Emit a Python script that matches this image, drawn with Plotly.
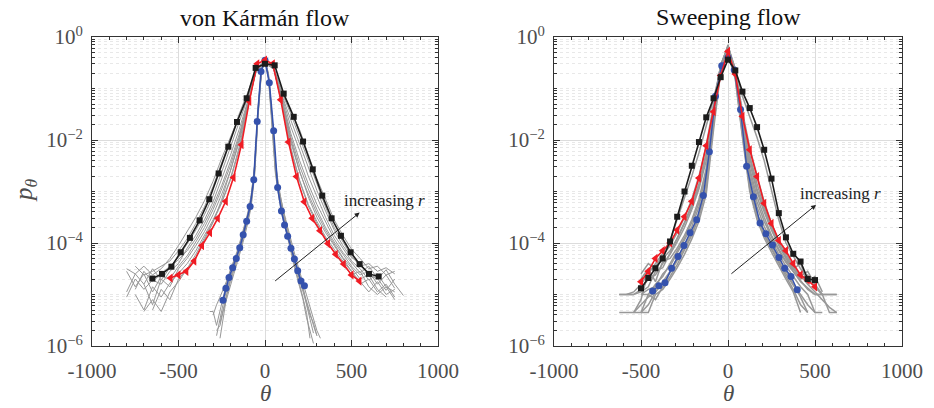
import plotly.graph_objects as go

# ---------------- data (log10 of p_theta) ----------------
# von Karman flow
vk_black_theta = [-651, -595, -541, -487, -434, -378, -322, -268, -212, -162, -106, -54, 0,
                  56, 108, 166, 220, 276, 331, 385, 439, 495, 547, 601, 657]
vk_black_logp = [-4.69, -4.60, -4.46, -4.18, -3.90, -3.56, -3.15, -2.65, -2.13, -1.65, -1.19, -0.60, -0.52,
                 -0.55, -1.10, -1.55, -2.03, -2.57, -3.08, -3.52, -3.86, -4.18, -4.41, -4.60, -4.65]
vk_red_theta = [-546, -500, -455, -409, -364, -318, -273, -227, -182, -136, -91, -45, 0,
                45, 91, 136, 182, 227, 273, 318, 364, 409, 455, 500, 546]
vk_red_logp = [-4.68, -4.62, -4.55, -4.35, -4.05, -3.80, -3.52, -3.19, -2.73, -2.09, -1.25, -0.52, -0.45,
               -0.52, -1.22, -2.04, -2.71, -3.20, -3.52, -3.76, -4.01, -4.22, -4.41, -4.62, -4.74]
vk_blue_theta = [-243, -226, -208, -187, -166, -146, -126, -106, -86, -65, -45, -23, 0,
                 25, 50, 73, 95, 113, 131, 150, 170, 189, 208, 228]
vk_blue_logp = [-5.11, -4.88, -4.67, -4.48, -4.30, -4.09, -3.84, -3.58, -3.29, -2.77, -1.64, -0.67, -0.45,
                -0.89, -1.82, -2.92, -3.38, -3.65, -3.87, -4.10, -4.31, -4.54, -4.74, -4.83]

vk_gray_outer_theta = [-800, -750, -700, -650, -600, -550, -500, -450, -400, -350, -300, -250, -200, -150, -100, -50, 0,
                       50, 100, 150, 200, 250, 300, 350, 400, 450, 500, 550, 600, 650, 700, 750, 800]
vk_gray_outer_1 = [None, -4.45, -4.62, -4.55, -4.45, -4.35, -4.15, -3.92, -3.62, -3.30, -2.90, -2.45, -1.98, -1.50, -1.08, -0.62, -0.50,
                   -0.60, -1.05, -1.45, -1.80, -2.28, -2.75, -3.15, -3.55, -3.85, -4.12, -4.30, -4.50, -4.45, -4.62, -4.55, None]
vk_gray_outer_2 = [-5.05, -4.70, -4.90, -4.72, -4.80, -4.55, -4.40, -4.10, -3.85, -3.55, -3.20, -2.75, -2.30, -1.80, -1.25, -0.62, -0.48,
                   -0.60, -1.20, -1.75, -2.20, -2.70, -3.10, -3.50, -3.85, -4.10, -4.35, -4.50, -4.72, -4.60, -4.85, -4.95, None]
vk_gray_outer_3 = [None, -5.00, -5.30, -4.85, -5.05, -4.78, -4.60, -4.40, -4.15, -3.85, -3.55, -3.20, -2.75, -2.15, -1.38, -0.60, -0.47,
                   -0.58, -1.30, -2.15, -2.78, -3.25, -3.58, -3.88, -4.12, -4.35, -4.55, -4.80, -4.70, -4.95, -4.80, -5.05, None]
vk_gray_outer_4 = [-4.55, -4.85, -4.60, -4.95, -4.65, -4.70, -4.45, -4.25, -3.98, -3.70, -3.35, -2.95, -2.50, -1.95, -1.30, -0.65, -0.49,
                   -0.62, -1.25, -1.95, -2.50, -2.95, -3.35, -3.70, -3.98, -4.22, -4.45, -4.62, -4.55, -4.80, -4.62, -4.88, None]
vk_gray_outer_5 = [None, None, -5.33, -5.10, -5.33, -4.95, -4.75, -4.50, -4.28, -3.95, -3.60, -3.15, -2.60, -2.00, -1.32, -0.63, -0.47,
                   -0.60, -1.28, -2.00, -2.60, -3.10, -3.50, -3.80, -4.05, -4.30, -4.55, -4.75, -4.95, -4.75, -5.00, -4.90, None]
vk_gray_outer_6 = [-4.50, -4.60, -4.45, -4.62, -4.50, -4.30, -4.05, -3.78, -3.50, -3.18, -2.80, -2.35, -1.95, -1.55, -1.15, -0.65, -0.52,
                   -0.62, -1.10, -1.50, -1.95, -2.40, -2.85, -3.30, -3.70, -3.98, -4.25, -4.45, -4.40, -4.55, -4.48, -4.60, None]
vk_gray_outer_7 = [None, None, -4.80, -5.20, -4.70, -4.85, -4.50, -4.30, -4.05, -3.78, -3.45, -3.05, -2.60, -2.05, -1.35, -0.64, -0.48,
                   -0.61, -1.32, -2.05, -2.62, -3.05, -3.42, -3.75, -4.02, -4.28, -4.48, -4.70, -4.62, -4.90, -5.05, None, None]
vk_gray_outer_8 = [None, -4.90, -4.55, -4.75, -4.60, -4.45, -4.28, -4.02, -3.75, -3.45, -3.08, -2.62, -2.15, -1.65, -1.18, -0.63, -0.50,
                   -0.61, -1.15, -1.62, -2.08, -2.55, -2.98, -3.38, -3.75, -4.05, -4.28, -4.40, -4.62, -4.70, -4.52, -4.80, -5.02]
vk_gray_outer_9 = [None, None, None, -5.30, -4.90, -5.10, -4.70, -4.50, -4.22, -3.90, -3.58, -3.22, -2.78, -2.20, -1.40, -0.61, -0.46,
                   -0.59, -1.35, -2.20, -2.80, -3.28, -3.62, -3.92, -4.18, -4.42, -4.62, -4.55, -4.85, -5.00, -4.85, -5.10, None]
vk_gray_outer_10 = [-4.95, -4.60, -4.80, -4.50, -4.72, -4.48, -4.32, -4.15, -3.92, -3.62, -3.28, -2.88, -2.42, -1.90, -1.28, -0.64, -0.49,
                    -0.62, -1.22, -1.88, -2.40, -2.85, -3.25, -3.60, -3.92, -4.18, -4.38, -4.58, -4.45, -4.68, -4.92, -4.70, None]

vk_gray_inner_theta = [-320, -300, -280, -260, -240, -220, -200, -180, -160, -140, -120, -100, -80, -60, -40, -20, 0,
                       20, 40, 60, 80, 100, 120, 140, 160, 180, 200, 220, 240, 260, 280, 300, 320]
vk_gray_inner_1 = [None, None, -5.80, -5.45, -5.15, -4.90, -4.65, -4.45, -4.25, -4.05, -3.80, -3.52, -3.20, -2.60, -1.45, -0.65, -0.46,
                   -0.75, -1.55, -2.50, -3.00, -3.35, -3.62, -3.90, -4.20, -4.45, -4.68, -4.90, -5.10, -5.35, -5.60, -5.80, None]
vk_gray_inner_2 = [-5.33, -5.33, -5.60, -5.30, -5.00, -4.75, -4.55, -4.38, -4.18, -3.95, -3.70, -3.45, -3.10, -2.50, -1.38, -0.62, -0.45,
                   -0.72, -1.50, -2.45, -2.95, -3.30, -3.58, -3.85, -4.15, -4.38, -4.62, -4.85, -5.20, -5.45, -5.75, None, None]
vk_gray_inner_3 = [None, None, None, -5.85, -5.40, -5.00, -4.75, -4.55, -4.32, -4.10, -3.85, -3.58, -3.25, -2.65, -1.50, -0.66, -0.46,
                   -0.78, -1.62, -2.60, -3.08, -3.42, -3.70, -3.98, -4.30, -4.55, -4.80, -5.05, -5.35, -5.85, None, None, None]
vk_gray_inner_4 = [None, None, None, -5.55, -5.25, -4.95, -4.70, -4.50, -4.28, -4.00, -3.78, -3.50, -3.15, -2.55, -1.42, -0.63, -0.45,
                   -0.76, -1.55, -2.55, -3.05, -3.40, -3.68, -3.95, -4.25, -4.50, -4.72, -4.95, -5.15, -5.40, -5.55, -5.80, None]
vk_gray_inner_5 = [None, -5.40, -5.20, -5.05, -4.90, -4.72, -4.52, -4.35, -4.15, -3.92, -3.68, -3.42, -3.08, -2.48, -1.35, -0.61, -0.45,
                   -0.70, -1.48, -2.42, -2.92, -3.28, -3.55, -3.82, -4.10, -4.32, -4.55, -4.78, -5.00, -5.25, -5.50, -5.70, -5.85]
vk_gray_inner_6 = [None, None, -5.70, -5.60, -5.30, -5.05, -4.80, -4.60, -4.38, -4.15, -3.90, -3.62, -3.30, -2.70, -1.55, -0.67, -0.46,
                   -0.80, -1.65, -2.65, -3.12, -3.48, -3.75, -4.05, -4.35, -4.60, -4.85, -5.10, -5.45, -5.70, -5.95, None, None]

# Sweeping flow
sw_theta = [-625, -583, -542, -500, -458, -417, -375, -333, -292, -250, -208, -167, -125, -83, -42, 0,
            42, 83, 125, 167, 208, 250, 292, 333, 375, 417, 458, 500, 542, 583, 625]
sw_black_logp = [None, None, None, -4.88, -4.68, -4.49, -4.30, -3.97, -3.49, -3.00, -2.50, -2.04, -1.56, -1.19, -0.78, -0.44,
                 -0.65, -1.06, -1.38, -1.75, -2.19, -2.75, -3.42, -3.89, -4.21, -4.36, -4.70, -4.72, None, None, None]
sw_red_logp = [None, None, None, -4.75, -4.55, -4.30, -4.15, -4.00, -3.75, -3.49, -3.19, -2.74, -2.11, -1.45, -0.75, -0.28,
               -0.72, -1.54, -2.19, -2.71, -3.23, -3.62, -3.95, -4.15, -4.40, -4.62, -4.72, -4.85, None, None, None]
sw_blue_theta = [-433, -397, -362, -324, -287, -253, -218, -180, -142, -107, -72, -36, 0,
                 36, 72, 107, 146, 184, 218, 256, 293, 326, 362, 398]
sw_blue_logp = [-4.93, -4.83, -4.77, -4.49, -4.26, -4.05, -3.80, -3.55, -3.08, -2.23, -1.15, -0.56, -0.40,
                -0.64, -1.41, -2.51, -3.10, -3.61, -3.82, -4.04, -4.28, -4.49, -4.65, -4.91]

sw_gray_1 = [None, None, None, -5.35, -5.20, -4.95, -4.75, -4.55, -4.30, -4.05, -3.78, -3.42, -2.80, -1.55, -0.60, -0.25,
             -0.70, -1.75, -2.85, -3.42, -3.78, -4.05, -4.30, -4.55, -4.80, -5.05, -5.35, None, None, None, None]
sw_gray_2 = [-5.00, -5.00, -5.00, -4.90, -4.70, -4.62, -4.40, -4.22, -3.98, -3.70, -3.35, -2.95, -2.40, -1.35, -0.55, -0.20,
             -0.65, -1.55, -2.45, -3.00, -3.40, -3.75, -4.05, -4.30, -4.55, -4.75, -4.88, -5.00, -5.00, -5.00, -5.00]
sw_gray_3 = [-5.35, -5.35, -5.35, -5.10, -4.55, -4.45, -4.25, -4.05, -3.80, -3.50, -3.15, -2.70, -2.10, -1.30, -0.55, -0.18,
             -0.62, -1.45, -2.15, -2.70, -3.20, -3.62, -3.95, -4.20, -4.45, -4.62, -4.80, -4.95, -5.10, -5.25, -5.35]
sw_gray_4 = [None, None, -5.35, -5.35, -5.00, -5.10, -4.85, -4.65, -4.42, -4.15, -3.85, -3.50, -2.95, -1.70, -0.65, -0.30,
             -0.80, -1.90, -2.95, -3.50, -3.85, -4.12, -4.40, -4.65, -4.90, -5.20, -5.35, None, None, None, None]
sw_gray_5 = [None, None, None, -4.70, -4.50, -4.75, -4.35, -4.30, -4.10, -3.85, -3.55, -3.15, -2.55, -1.45, -0.58, -0.22,
             -0.68, -1.60, -2.55, -3.10, -3.50, -3.85, -4.12, -4.35, -4.50, -4.40, -4.75, -4.65, -4.95, None, None]
sw_gray_6 = [None, -5.00, -4.95, -4.80, -4.60, -4.40, -4.20, -3.95, -3.55, -3.15, -2.70, -2.25, -1.75, -1.20, -0.60, -0.30,
             -0.62, -1.15, -1.55, -1.95, -2.40, -2.95, -3.55, -4.00, -4.25, -4.50, -4.70, -4.85, -5.00, None, None]
sw_gray_7 = [None, None, None, -5.00, -4.90, -4.85, -4.60, -4.45, -4.20, -3.95, -3.68, -3.30, -2.60, -1.45, -0.58, -0.15,
             -0.72, -1.65, -2.70, -3.30, -3.68, -3.95, -4.22, -4.45, -4.65, -4.85, -5.00, -5.35, -5.35, None, None]
sw_gray_8 = [-5.00, -5.00, -5.00, -4.95, -4.85, -4.55, -4.48, -4.20, -3.90, -3.60, -3.25, -2.85, -2.25, -1.35, -0.55, -0.20,
             -0.66, -1.50, -2.30, -2.85, -3.30, -3.68, -4.00, -4.28, -4.50, -4.70, -4.62, -4.85, -5.00, -5.00, -5.00]
sw_gray_9 = [None, None, None, -5.00, -5.00, -4.80, -4.65, -4.40, -4.15, -3.90, -3.60, -3.22, -2.65, -1.55, -0.60, -0.22,
             -0.70, -1.70, -2.62, -3.20, -3.58, -3.88, -4.15, -4.38, -4.55, -4.72, -4.90, -5.00, -5.00, None, None]
sw_gray_10 = [None, None, -5.35, -5.20, -5.05, -4.95, -4.78, -4.58, -4.35, -4.10, -3.82, -3.46, -2.85, -1.62, -0.62, -0.26,
              -0.76, -1.80, -2.88, -3.46, -3.82, -4.10, -4.35, -4.60, -4.82, -5.00, -5.20, -5.35, None, None, None]
sw_gray_11 = [None, None, None, -4.60, -4.40, -4.50, -4.30, -4.15, -3.92, -3.62, -3.30, -2.90, -2.30, -1.38, -0.57, -0.18,
              -0.64, -1.50, -2.35, -2.95, -3.35, -3.70, -4.02, -4.25, -4.48, -4.65, -4.55, -4.80, -5.00, -5.35, -5.35]
sw_gray_12 = [None, None, None, -5.35, -5.35, -5.00, -4.90, -4.70, -4.48, -4.22, -3.92, -3.58, -3.05, -1.80, -0.68, -0.32,
              -0.82, -1.95, -3.00, -3.55, -3.90, -4.18, -4.45, -4.70, -4.95, -5.35, None, None, None, None, None]

x_tick_vals = [-1000, -500, 0, 500, 1000]
x_tick_text = ["-1000", "-500", "0", "500", "1000"]
y_tick_vals = [1, 1e-2, 1e-4, 1e-6]
y_tick_text = ["10<sup>0</sup>", "10<sup>−2</sup>", "10<sup>−4</sup>", "10<sup>−6</sup>"]


def p(vals):
    return [None if v is None else 10 ** v for v in vals]


GRAY = "rgb(152,152,152)"
BLACK = "#1c1c1c"
RED = "#f01c24"
BLUE = "#3552ad"

fig = go.Figure()


def add_line(x, logp, color, width, xa, ya, marker=None):
    tr = go.Scatter(x=x, y=p(logp), mode="lines" if marker is None else "lines+markers",
                    line=dict(color=color, width=width), xaxis=xa, yaxis=ya,
                    showlegend=False, hoverinfo="skip", connectgaps=False)
    if marker is not None:
        tr.marker = marker
    fig.add_trace(tr)


# left panel gray
for g in [vk_gray_outer_1, vk_gray_outer_2, vk_gray_outer_3, vk_gray_outer_4, vk_gray_outer_5,
          vk_gray_outer_6, vk_gray_outer_7, vk_gray_outer_8, vk_gray_outer_9, vk_gray_outer_10]:
    add_line(vk_gray_outer_theta, g, GRAY, 1, "x", "y")
for g in [vk_gray_inner_1, vk_gray_inner_2, vk_gray_inner_3, vk_gray_inner_4, vk_gray_inner_5, vk_gray_inner_6]:
    add_line(vk_gray_inner_theta, g, GRAY, 1, "x", "y")
# right panel gray
for g in [sw_gray_1, sw_gray_2, sw_gray_3, sw_gray_4, sw_gray_5, sw_gray_6,
          sw_gray_7, sw_gray_8, sw_gray_9, sw_gray_10, sw_gray_11, sw_gray_12]:
    add_line(sw_theta, g, GRAY, 1.5, "x2", "y2")

# highlighted series
add_line(vk_blue_theta, vk_blue_logp, BLUE, 1.6, "x", "y", dict(symbol="circle", size=7, color=BLUE))
add_line(vk_red_theta, vk_red_logp, RED, 1.6, "x", "y", dict(symbol="triangle-left", size=8, color=RED))
add_line(vk_black_theta, vk_black_logp, BLACK, 1.6, "x", "y", dict(symbol="square", size=6, color=BLACK))

add_line(sw_blue_theta, sw_blue_logp, BLUE, 1.4, "x2", "y2", dict(symbol="circle", size=7, color=BLUE))
add_line(sw_theta, sw_red_logp, RED, 1.6, "x2", "y2", dict(symbol="triangle-left", size=8, color=RED))
add_line(sw_theta, sw_black_logp, BLACK, 1.6, "x2", "y2", dict(symbol="square", size=6, color=BLACK))

FONT = "Liberation Serif"
TICKC = "#4d4d4d"

y_minor_vals = []
for e in range(-6, 0):
    for m in range(1, 10):
        if not (m == 1 and e % 2 == 0):
            y_minor_vals.append(m * 10.0 ** e)

xaxis_common = dict(range=[-1000, 1000], tickmode="array", tickvals=x_tick_vals, ticktext=x_tick_text,
                    ticks="inside", ticklen=6, tickcolor="#333", tickwidth=1,
                    showline=True, linecolor="#333", linewidth=1, mirror="allticks",
                    showgrid=True, gridcolor="#dcdcdc", gridwidth=1, zeroline=False,
                    tickfont=dict(family=FONT, size=21, color=TICKC), ticklabelstandoff=6,
                    minor=dict(dtick=100, tick0=0, ticks="inside", ticklen=3, tickcolor="#333", showgrid=False),
                    automargin=False)
yaxis_common = dict(type="log", range=[-6, 0], tickmode="array", tickvals=y_tick_vals, ticktext=y_tick_text,
                    ticks="inside", ticklen=6, tickcolor="#333", tickwidth=1,
                    showline=True, linecolor="#333", linewidth=1, mirror="allticks",
                    showgrid=True, gridcolor="#dcdcdc", gridwidth=1, zeroline=False,
                    tickfont=dict(family=FONT, size=21, color=TICKC), ticklabelstandoff=4,
                    minor=dict(tickmode="array", tickvals=y_minor_vals, ticks="inside", ticklen=3,
                               tickcolor="#333", showgrid=True, gridcolor="#e8e8e8", griddash="dot", gridwidth=1),
                    automargin=False)

fig.update_layout(
    width=934, height=408,
    margin=dict(l=0, r=0, t=0, b=0),
    paper_bgcolor="white", plot_bgcolor="white",
    xaxis=dict(domain=[92 / 934, 438 / 934], anchor="y", **xaxis_common),
    yaxis=dict(domain=[1 - 346 / 408, 1 - 37 / 408], anchor="x", **yaxis_common),
    xaxis2=dict(domain=[554 / 934, 902 / 934], anchor="y2", **xaxis_common),
    yaxis2=dict(domain=[1 - 346 / 408, 1 - 37 / 408], anchor="x2", **yaxis_common),
)

ann = []
# titles
ann.append(dict(text="von Kármán flow", x=265 / 934, y=1 - 18 / 408, xref="paper", yref="paper",
                xanchor="center", yanchor="middle",
                showarrow=False, font=dict(family=FONT, size=24, color="#111")))
ann.append(dict(text="Sweeping flow", x=728 / 934, y=1 - 17 / 408, xref="paper", yref="paper",
                xanchor="center", yanchor="middle",
                showarrow=False, font=dict(family=FONT, size=24, color="#111")))
# axis labels
for xc in [265 / 934, 728 / 934]:
    ann.append(dict(text="<i>θ</i>", x=xc, y=1 - 393 / 408, xref="paper", yref="paper",
                    xanchor="center", yanchor="middle",
                    showarrow=False, font=dict(family=FONT, size=23, color=TICKC)))
ann.append(dict(text="<i>p</i><sub><i>θ</i></sub>", x=25 / 934, y=1 - 190 / 408, xref="paper", yref="paper",
                xanchor="center", yanchor="middle",
                showarrow=False, textangle=-90, font=dict(family=FONT, size=25, color=TICKC)))
# arrows and labels
ann.append(dict(x=547, y=-3.41, ax=50, ay=-4.76, xref="x", yref="y", axref="x", ayref="y",
                showarrow=True, arrowhead=2, arrowsize=1, arrowwidth=1, arrowcolor="#222", text=""))
ann.append(dict(text="increasing <i>r</i>", x=692, y=-3.18, xref="x", yref="y", showarrow=False,
                xanchor="center", yanchor="middle",
                font=dict(family=FONT, size=17, color="#222")))
ann.append(dict(x=506, y=-3.26, ax=11, ay=-4.62, xref="x2", yref="y2", axref="x2", ayref="y2",
                showarrow=True, arrowhead=2, arrowsize=1, arrowwidth=1, arrowcolor="#222", text=""))
ann.append(dict(text="increasing <i>r</i>", x=644, y=-3.03, xref="x2", yref="y2", showarrow=False,
                xanchor="center", yanchor="middle",
                font=dict(family=FONT, size=17, color="#222")))
fig.update_layout(annotations=ann)

fig.write_html("out.html", config={"displayModeBar": False},
               post_script="document.body.style.margin='0';document.body.style.overflow='hidden';")
